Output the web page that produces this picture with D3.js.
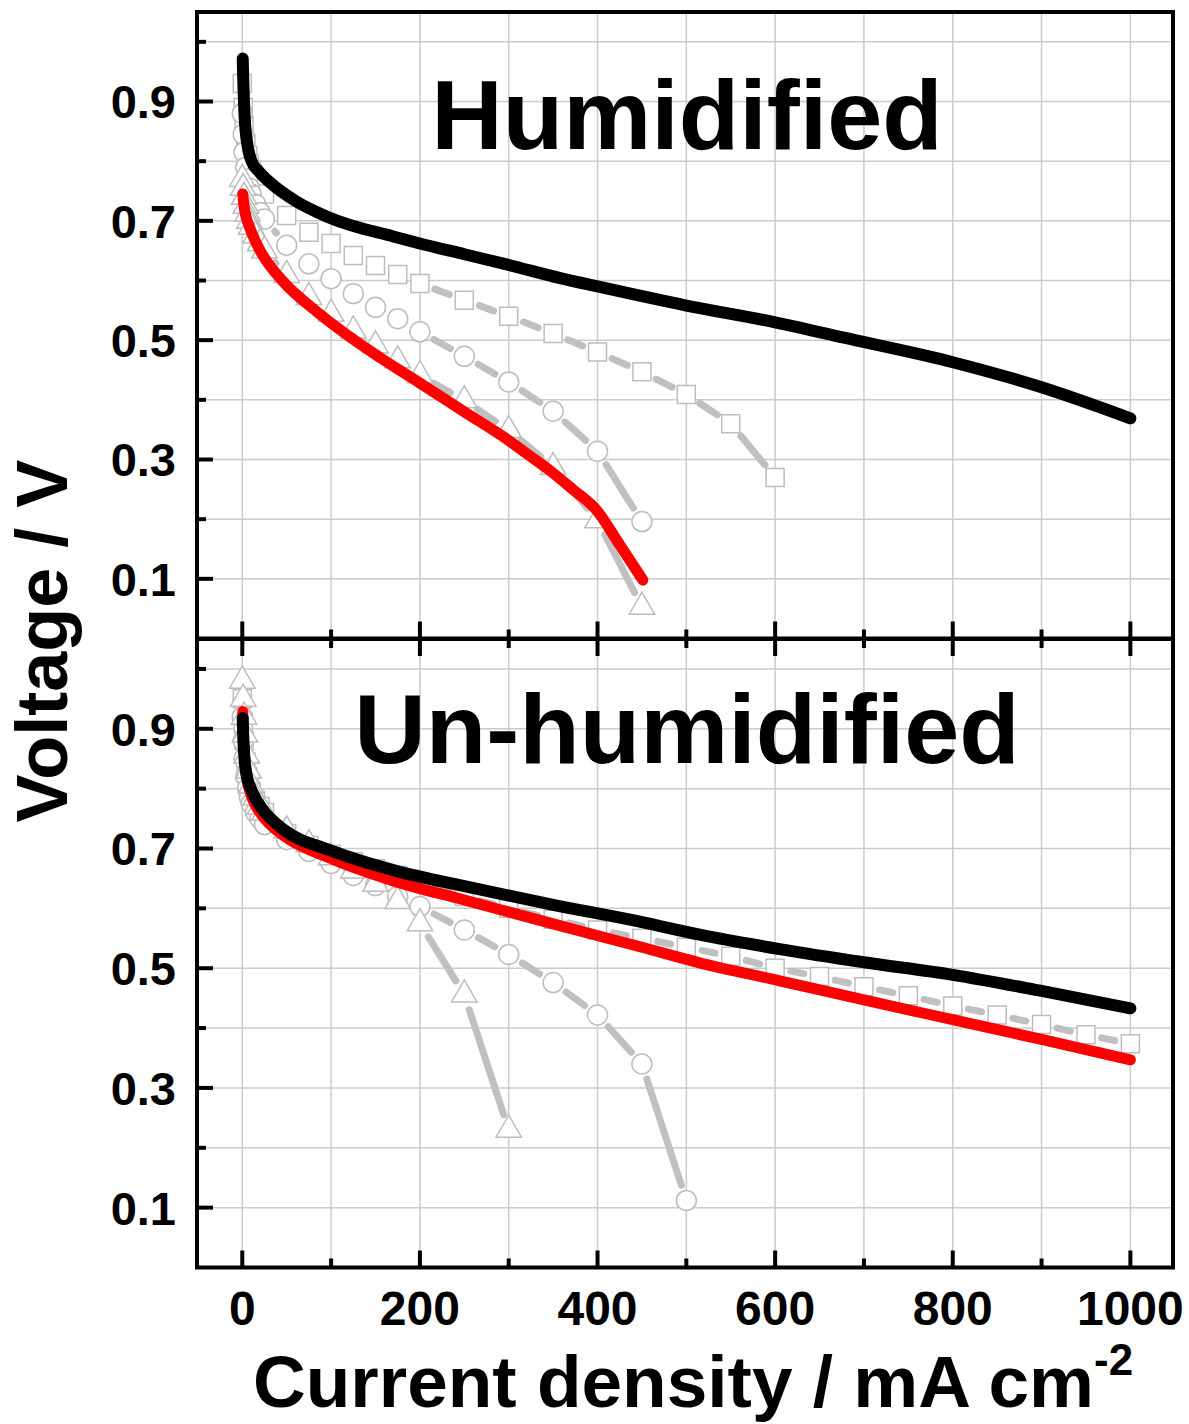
<!DOCTYPE html>
<html><head><meta charset="utf-8">
<script src="https://cdn.jsdelivr.net/npm/d3@7"></script>
<style>body{margin:0;background:#fff} svg{display:block}</style>
</head><body><svg id="c" width="1189" height="1424"></svg>
<script>
// ---------- data ----------
const xTickLabels = [0, 200, 400, 600, 800, 1000];
const yTickLabels = [0.1, 0.3, 0.5, 0.7, 0.9];
const panelTitles = ["Humidified", "Un-humidified"];

// Humidified panel
const humBlack = [[0.5,0.972],[1,0.94],[2,0.895],[3,0.865],[5,0.835],[7,0.817],[11,0.798],[18,0.784],[33,0.762],[59,0.734],[97,0.706],[172,0.673],[200,0.662],[250,0.644],[300,0.626],[358,0.604],[400,0.59],[500,0.558],[600,0.53],[684,0.502],[800,0.463],[900,0.421],[1000,0.369]];
const humRed = [[0.5,0.745],[2,0.725],[4,0.708],[8,0.69],[15,0.665],[22,0.645],[48,0.595],[78,0.555],[116,0.511],[155,0.471],[200,0.428],[250,0.38],[300,0.332],[323,0.307],[346,0.282],[372,0.25],[399,0.215],[425,0.157],[451,0.098]];
const humSqI = [0,1,2,4,6,8,10,15,20,25,50,75,100,125,150,175,200,250,300,350,400,450,500,550,600];
const humSqV = [0.93,0.89,0.86,0.83,0.81,0.795,0.785,0.77,0.755,0.745,0.709,0.681,0.662,0.642,0.625,0.61,0.595,0.567,0.54,0.511,0.48,0.447,0.409,0.36,0.27];
const humCiI = [0,1,2,4,6,8,10,15,20,25,50,75,100,125,150,175,200,250,300,350,400,450];
const humCiV = [0.88,0.845,0.815,0.79,0.77,0.755,0.745,0.728,0.714,0.703,0.659,0.628,0.603,0.578,0.555,0.536,0.514,0.473,0.43,0.381,0.314,0.196];
const humTrI = [0,1,2,4,6,8,10,15,20,25,50,75,100,125,150,175,200,250,300,350,400,450];
const humTrV = [0.77,0.755,0.74,0.725,0.712,0.70,0.69,0.675,0.662,0.65,0.609,0.572,0.544,0.516,0.491,0.466,0.441,0.399,0.349,0.287,0.198,0.053];

// Un-humidified panel
const unBlack = [[0.5,0.918],[1,0.89],[2,0.86],[4,0.83],[6,0.815],[9,0.802],[15,0.783],[22,0.767],[48,0.73],[97,0.698],[172,0.663],[250,0.637],[350,0.606],[450,0.577],[515,0.556],[605,0.532],[700,0.51],[800,0.489],[900,0.462],[1000,0.433]];
const unRed = [[0.5,0.929],[1,0.9],[2,0.865],[4,0.83],[6,0.81],[9,0.793],[15,0.772],[22,0.756],[48,0.72],[97,0.685],[172,0.645],[250,0.614],[350,0.574],[450,0.535],[515,0.509],[605,0.479],[700,0.447],[800,0.414],[900,0.381],[1000,0.347]];
const unSqI = [0,1,2,4,6,8,10,15,20,25,50,75,100,125,150,175,200,250,300,350,400,450,500,550,600,650,700,750,800,850,900,950,1000];
const unSqV = [0.95,0.91,0.88,0.845,0.82,0.805,0.795,0.78,0.77,0.76,0.725,0.705,0.69,0.678,0.666,0.655,0.645,0.62,0.60,0.582,0.564,0.55,0.535,0.52,0.50,0.486,0.469,0.454,0.437,0.422,0.406,0.389,0.374];
const unCiI = [0,1,2,4,6,8,10,15,20,25,50,75,100,125,150,175,200,250,300,350,400,450,500];
const unCiV = [0.92,0.88,0.85,0.82,0.80,0.785,0.775,0.76,0.75,0.74,0.715,0.695,0.675,0.655,0.638,0.62,0.603,0.564,0.523,0.476,0.422,0.34,0.112];
const unTrI = [0,1,2,3,5,7,10,15,20,25,50,75,100,125,150,175,200,250,300];
const unTrV = [0.98,0.95,0.92,0.89,0.855,0.83,0.805,0.785,0.77,0.76,0.73,0.707,0.685,0.663,0.641,0.612,0.575,0.456,0.23];

// ---------- layout ----------
const svg = d3.select("#c");
const L = 197, R = 1173;
const panels = [
  {top: 12, bottom: 638.5, title: panelTitles[0], titleY: 149, black: humBlack, red: humRed,
   gray: [{I: humSqI, V: humSqV, sym: d3.symbolSquare, size: 324},
          {I: humCiI, V: humCiV, sym: d3.symbolCircle, size: 314},
          {I: humTrI, V: humTrV, sym: d3.symbolTriangle, size: 280}],
   tickTop: false},
  {top: 639, bottom: 1267.5, title: panelTitles[1], titleY: 763, black: unBlack, red: unRed,
   gray: [{I: unSqI, V: unSqV, sym: d3.symbolSquare, size: 324},
          {I: unCiI, V: unCiV, sym: d3.symbolCircle, size: 314},
          {I: unTrI, V: unTrV, sym: d3.symbolTriangle, size: 280}],
   tickTop: true}
];
const x = d3.scaleLinear().domain([-51, 1048]).range([L, R]);
const FONT = "'Liberation Sans', Arial, Helvetica, sans-serif";
const gridColor = "#cbcbcb";
const grayLine = "#c0c0c0";
const markStroke = "#bdbdbd";

panels.forEach((p, pi) => {
  const y = d3.scaleLinear().domain([0, 1.05]).range([p.bottom, p.top]);
  const g = svg.append("g");
  const clipId = "clip" + pi;
  svg.append("clipPath").attr("id", clipId).append("rect")
    .attr("x", L).attr("y", p.top).attr("width", R - L).attr("height", p.bottom - p.top);

  // grid
  const gx = d3.range(0, 1001, 100);
  const gy = d3.range(1, 11).map(d => d / 10);
  g.append("g").selectAll("line").data(gx).join("line")
    .attr("x1", d => x(d)).attr("x2", d => x(d)).attr("y1", p.top).attr("y2", p.bottom)
    .attr("stroke", gridColor).attr("stroke-width", 1.5);
  g.append("g").selectAll("line").data(gy).join("line")
    .attr("x1", L).attr("x2", R).attr("y1", d => y(d)).attr("y2", d => y(d))
    .attr("stroke", gridColor).attr("stroke-width", 1.5);

  // panel title
  g.append("text").attr("x", 687).attr("y", p.titleY).attr("text-anchor", "middle")
    .attr("font-family", FONT).attr("font-weight", "bold").attr("font-size", 99)
    .attr("fill", "#000").text(p.title);

  const data = g.append("g").attr("clip-path", `url(#${clipId})`);
  // gray series: segments with gaps at markers, then hollow markers
  const gap = 16;
  p.gray.forEach(s => {
    const pts = s.I.map((d, i) => [x(d), y(s.V[i])]);
    const segs = [];
    for (let i = 0; i < pts.length - 1; i++) {
      const [x1, y1] = pts[i], [x2, y2] = pts[i + 1];
      const dx = x2 - x1, dy = y2 - y1, dd = Math.hypot(dx, dy);
      if (dd > 2 * gap) {
        const ux = dx / dd, uy = dy / dd;
        segs.push([x1 + ux * gap, y1 + uy * gap, x2 - ux * gap, y2 - uy * gap]);
      }
    }
    data.append("g").selectAll("line").data(segs).join("line")
      .attr("x1", d => d[0]).attr("y1", d => d[1]).attr("x2", d => d[2]).attr("y2", d => d[3])
      .attr("stroke", grayLine).attr("stroke-width", 7).attr("stroke-linecap", "round");
    const sym = d3.symbol().type(s.sym).size(s.size);
    data.append("g").selectAll("path").data(pts).join("path")
      .attr("transform", d => `translate(${d[0]},${d[1]})`)
      .attr("d", sym).attr("fill", "#fff").attr("stroke", markStroke).attr("stroke-width", 1.5);
  });

  const line = d3.line().x(d => x(d[0])).y(d => y(d[1])).curve(d3.curveMonotoneX);
  data.append("path").datum(p.red).attr("d", line).attr("fill", "none")
    .attr("stroke", "#ff0000").attr("stroke-width", 11).attr("stroke-linecap", "round").attr("stroke-linejoin", "round");
  data.append("path").datum(p.black).attr("d", line).attr("fill", "none")
    .attr("stroke", "#000").attr("stroke-width", 12).attr("stroke-linecap", "round").attr("stroke-linejoin", "round");

  // left axis ticks (inward)
  const yMajor = yTickLabels;
  const yMinor = [0.2, 0.4, 0.6, 0.8, 1.0];
  g.append("g").selectAll("line").data(yMajor).join("line")
    .attr("x1", L).attr("x2", L + 16).attr("y1", d => y(d)).attr("y2", d => y(d))
    .attr("stroke", "#000").attr("stroke-width", 4);
  g.append("g").selectAll("line").data(yMinor).join("line")
    .attr("x1", L).attr("x2", L + 9).attr("y1", d => y(d)).attr("y2", d => y(d))
    .attr("stroke", "#000").attr("stroke-width", 4);
  g.append("g").selectAll("text").data(yTickLabels).join("text")
    .attr("x", 176).attr("y", d => y(d)).attr("dy", "0.36em").attr("text-anchor", "end")
    .attr("font-family", FONT).attr("font-weight", "bold").attr("font-size", 47)
    .text(d => d.toFixed(1));

  // x ticks: bottom (upward) and, for lower panel, top (downward)
  const xMajor = xTickLabels;
  const xMinor = [100, 300, 500, 700, 900];
  const addXTicks = (yy, dir) => {
    g.append("g").selectAll("line").data(xMajor).join("line")
      .attr("x1", d => x(d)).attr("x2", d => x(d)).attr("y1", yy).attr("y2", yy + dir * 17)
      .attr("stroke", "#000").attr("stroke-width", 4);
    g.append("g").selectAll("line").data(xMinor).join("line")
      .attr("x1", d => x(d)).attr("x2", d => x(d)).attr("y1", yy).attr("y2", yy + dir * 9)
      .attr("stroke", "#000").attr("stroke-width", 4);
  };
  addXTicks(p.bottom, -1);
  if (p.tickTop) addXTicks(p.top, 1);

  // frame
  g.append("rect").attr("x", L).attr("y", p.top).attr("width", R - L).attr("height", p.bottom - p.top)
    .attr("fill", "none").attr("stroke", "#000").attr("stroke-width", 4);

  if (pi === 1) {
    g.append("g").selectAll("text").data(xTickLabels).join("text")
      .attr("x", d => x(d)).attr("y", 1325).attr("text-anchor", "middle")
      .attr("font-family", FONT).attr("font-weight", "bold").attr("font-size", 48)
      .text(d => d);
  }
});

// axis titles
const xt = svg.append("text").attr("x", 253).attr("y", 1407)
  .attr("font-family", FONT).attr("font-weight", "bold").attr("font-size", 73);
xt.append("tspan").text("Current density / mA cm");
xt.append("tspan").attr("dy", -32).attr("font-size", 44).text("-2");

svg.append("text").attr("transform", "translate(67,641) rotate(-90)").attr("text-anchor", "middle")
  .attr("font-family", FONT).attr("font-weight", "bold").attr("font-size", 72)
  .text("Voltage / V");
</script>
</body></html>
